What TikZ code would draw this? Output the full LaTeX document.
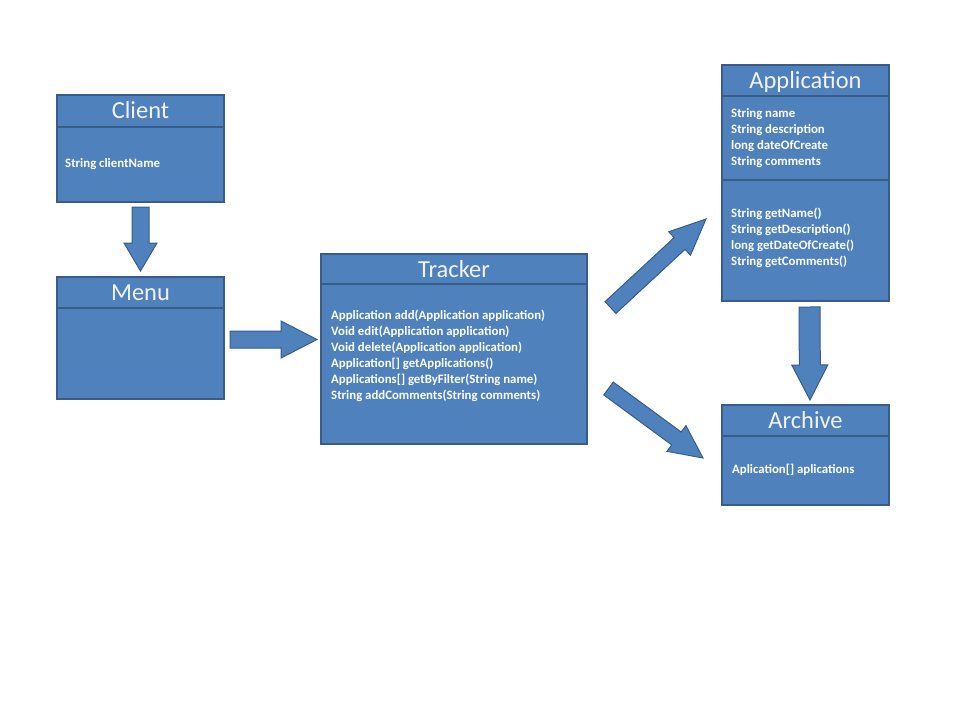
\documentclass[tikz,border=0pt]{standalone}
\usepackage{fontspec}
\setmainfont{Carlito}
\usetikzlibrary{calc}
\definecolor{boxfill}{HTML}{4F81BD}
\definecolor{boxline}{HTML}{385D8A}
\definecolor{titlecol}{HTML}{F2F2F2}
\tikzset{
  classbox/.style={draw=boxline, line width=2pt, fill=boxfill, inner sep=0pt},
  divider/.style={draw=boxline, line width=2pt},
  titletext/.style={text=titlecol, font=\fontsize{24.5}{28}\selectfont, inner sep=0pt, anchor=base},
  bodytext/.style={text=white, font=\fontsize{12.8}{16}\selectfont\bfseries, align=left, anchor=base west, inner sep=0pt},
  bodyblock/.style={bodytext, anchor=north west},
  barrow/.style={draw=boxline, line width=1pt, fill=boxfill, line join=miter},
}
\newcommand\blockarr[5]{%
  \coordinate (ba-h) at ($(#2)!#5!(#1)$);
  \draw[barrow] ($(#1)!#3!90:(#2)$) -- ($(ba-h)!#3!90:(#2)$) -- ($(ba-h)!#4!90:(#2)$) -- (#2)
    -- ($(ba-h)!#4!-90:(#2)$) -- ($(ba-h)!#3!-90:(#2)$) -- ($(#1)!#3!-90:(#2)$) -- cycle;}
\begin{document}
\begin{tikzpicture}[x=1pt,y=-1pt]
\useasboundingbox[fill=white] (0,0) rectangle (960,720);
% Client
\path[classbox] (57,95) rectangle (224,202);
\draw[divider] (57,127) -- (224,127);
\node[titletext] (client) at (140.5,118) {Client};
\node[bodytext] (clientbody) at (65,167) {String clientName};
% Menu
\path[classbox] (57,277) rectangle (224,399);
\draw[divider] (57,308) -- (224,308);
\node[titletext] (menu) at (140.5,300) {Menu};
% Tracker
\path[classbox] (321,254) rectangle (587,444);
\draw[divider] (321,284) -- (587,284);
\node[titletext] (tracker) at (454,277) {Tracker};
\node[bodyblock] (trackerbody) at (331,310) {Application add(Application application)\\Void edit(Application application)\\Void delete(Application application)\\Application[] getApplications()\\Applications[] getByFilter(String name)\\String addComments(String comments)};
% Application
\path[classbox] (722,65) rectangle (889,301);
\draw[divider] (722,96) -- (889,96);
\draw[divider] (722,180) -- (889,180);
\node[titletext] (application) at (805.5,88) {Application};
\node[bodyblock] (appfields) at (731,108) {String name\\String description\\long dateOfCreate\\String comments};
\node[bodyblock] (appmethods) at (731,208) {String getName()\\String getDescription()\\long getDateOfCreate()\\String getComments()};
% Archive
\path[classbox] (722,405) rectangle (889,505);
\draw[divider] (722,436) -- (889,436);
\node[titletext] (archive) at (805.5,428) {Archive};
\node[bodytext] (archivebody) at (732,473) {Aplication[] aplications};
% arrows
\coordinate (c2m-s) at (140.5,207);
\coordinate (c2m-e) at (140.5,271);
\blockarr{c2m-s}{c2m-e}{8.5pt}{16.5pt}{28pt}
\coordinate (m2t-s) at (230,339.5);
\coordinate (m2t-e) at (317,339.5);
\blockarr{m2t-s}{m2t-e}{8.5pt}{18.5pt}{36pt}
\coordinate (t2a-s) at (610.5,307.5);
\coordinate (t2a-e) at (706,219);
\blockarr{t2a-s}{t2a-e}{8pt}{16pt}{36pt}
\coordinate (t2r-s) at (608.5,388.5);
\coordinate (t2r-e) at (703,458);
\blockarr{t2r-s}{t2r-e}{8pt}{16pt}{33pt}
\coordinate (a2r-s) at (809.5,307);
\coordinate (a2r-e) at (810,400);
\blockarr{a2r-s}{a2r-e}{10.5pt}{18pt}{35pt}
\end{tikzpicture}
\end{document}
